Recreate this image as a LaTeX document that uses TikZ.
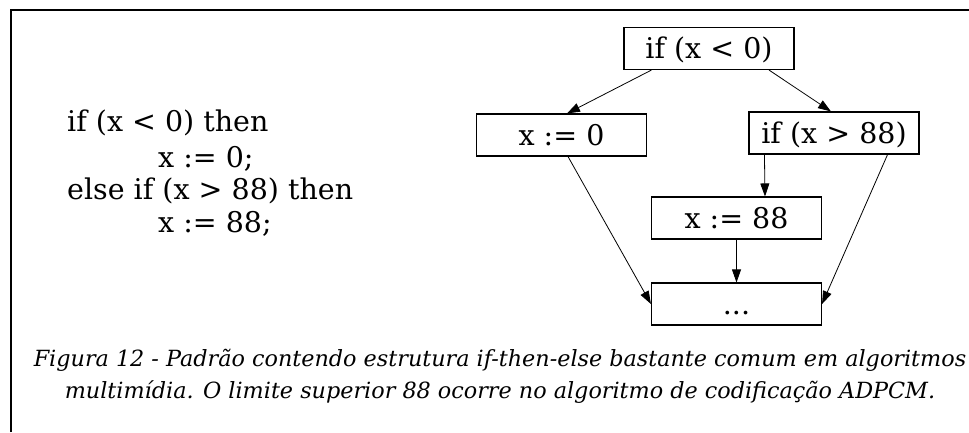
\documentclass[tikz,border=0pt]{standalone}
\usepackage{fontspec}
\setmainfont{DejaVu Serif}
\usepackage{graphicx}
\usetikzlibrary{arrows.meta}
\begin{document}
\begin{tikzpicture}[x=1pt,y=-1pt,
  box/.style={draw, line width=1.1pt, minimum width=170pt, minimum height=42pt, inner sep=0pt, text height=21pt, text depth=1pt, font=\fontsize{28.5}{31}\selectfont},
  code/.style={anchor=base west, inner sep=0pt, font=\fontsize{28.5}{31}\selectfont},
  captext/.style={anchor=base, inner sep=0pt, font=\fontsize{22.3}{31}\selectfont\itshape},
  arr/.style={line width=0.8pt, -{Triangle[length=13pt,width=9pt]}}]
\useasboundingbox (0,0) rectangle (969,432);
\draw[line width=1.5pt] (11,432) -- (11,10) -- (969,10);
% code
\node[code] (c1) at (67,131) {if (x < 0) then};
\node[code] (c2) at (158,167) {x := 0;};
\node[code] (c3) at (67,199) {else if (x > 88) then};
\node[code] (c4) at (158,232) {x := 88;};
% graph
\node[box] (n1) at (709,48.5) {if (x < 0)};
\node[box] (n2) at (561.5,135) {x := 0};
\node[box] (n3) at (834,133) {if (x > 88)};
\node[box] (n4) at (736.5,218) {x := 88};
\node[box] (n5) at (736.5,304) {...};
\draw[arr] ([xshift=28pt]n1.south west) -- ([xshift=5.5pt]n2.north);
\draw[arr] ([xshift=60pt]n1.south) -- ([xshift=-3pt]n3.north);
\draw[arr] ([xshift=16pt]n3.south west) -- ([xshift=28.5pt]n4.north);
\draw[arr] (n4.south) -- (n5.north);
\draw[arr] ([xshift=-32pt]n3.south east) -- (n5.east);
\draw[arr] ([xshift=6.5pt]n2.south) -- (n5.west);
% caption
\node[captext] (t1) at (500,366) {Figura 12 - Padrão contendo estrutura if-then-else bastante comum em algoritmos};
\node[captext] (t2) at (500,398) {multimídia. O limite superior 88 ocorre no algoritmo de codificação ADPCM.};
\end{tikzpicture}
\end{document}
